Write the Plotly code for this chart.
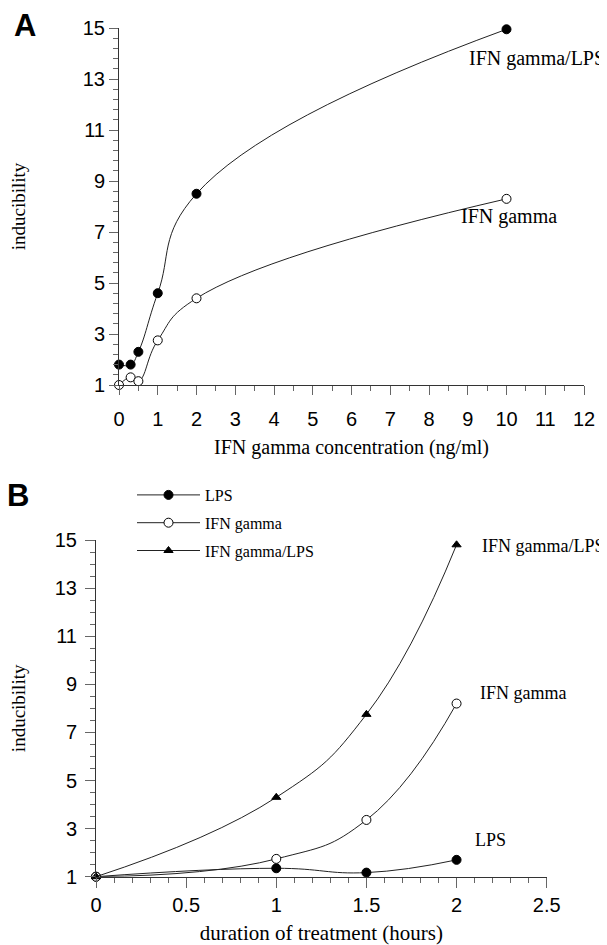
import plotly.graph_objects as go

# ---- Panel A data ----
conc_combo = [0, 0.3, 0.5, 1, 2, 10]
ind_combo_A = [1.8, 1.8, 2.3, 4.6, 8.5, 14.95]
conc_ifn = [0, 0.3, 0.5, 1, 2, 10]
ind_ifn_A = [1.0, 1.3, 1.15, 2.75, 4.4, 8.3]

# ---- Panel B data ----
hours = [0, 1, 1.5, 2]
ind_lps_B = [1.0, 1.35, 1.17, 1.7]
ind_ifn_B = [1.0, 1.74, 3.36, 8.2]
ind_combo_B = [1.0, 4.3, 7.75, 14.8]

x_ticks_A = [0, 1, 2, 3, 4, 5, 6, 7, 8, 9, 10, 11, 12]
x_ticks_B = [0, 0.5, 1, 1.5, 2, 2.5]
x_ticklabels_B = ["0", "0.5", "1", "1.5", "2", "2.5"]
y_ticks = [1, 3, 5, 7, 9, 11, 13, 15]

# page body has an 8px margin; figure sized to fill the visible window
OFF = 8
W, H = 607 - OFF, 945 - OFF

def px(x):
    return (x - OFF) / W

def py(y):
    return 1 - (y - OFF) / H

SANS = "Liberation Sans, Arial, sans-serif"
SERIF = "Liberation Serif, Times New Roman, serif"
LINE = "#222222"

fig = go.Figure()

def add(x, y, name, symbol, fill, xa, ya, show, group):
    fig.add_trace(go.Scatter(
        x=x, y=y, name=name, mode="lines+markers",
        line=dict(color=LINE, width=1, shape="spline", smoothing=1.3),
        marker=dict(symbol=symbol, size=9 if symbol != "triangle-up" else 8,
                    color=fill, line=dict(color="black", width=1)),
        xaxis=xa, yaxis=ya, showlegend=show, legendgroup=group,
        cliponaxis=False))

add(conc_combo, ind_combo_A, "IFN gamma/LPS", "circle", "black", "x", "y", False, "a1")
add(conc_ifn, ind_ifn_A, "IFN gamma", "circle", "white", "x", "y", False, "a2")

add(hours, ind_lps_B, "LPS", "circle", "black", "x2", "y2", True, "b1")
add(hours, ind_ifn_B, "IFN gamma", "circle", "white", "x2", "y2", True, "b2")
add(hours, ind_combo_B, "IFN gamma/LPS", "triangle-up", "black", "x2", "y2", True, "b3")

axis_common = dict(
    showline=True, linecolor="#333333", linewidth=1,
    showgrid=False, zeroline=False, ticks="outside",
    tickcolor="#666666", tickwidth=1, automargin=False,
    tickfont=dict(family=SANS, size=20, color="black"),
)
ytitle_font = dict(family=SERIF, size=19, color="black")

fig.update_layout(
    width=W, height=H,
    margin=dict(l=0, r=0, t=0, b=0),
    paper_bgcolor="white", plot_bgcolor="white",
    showlegend=True,
    legend=dict(
        x=px(132), y=py(478), xanchor="left", yanchor="top",
        font=dict(family=SERIF, size=16, color="black"),
        tracegroupgap=4, traceorder="grouped",
        bgcolor="rgba(0,0,0,0)", itemwidth=63,
    ),
    xaxis=dict(
        domain=[px(119), px(584)], range=[0, 12], anchor="y",
        tickvals=x_ticks_A, ticklen=9,
        minor=dict(dtick=0.5, tick0=0, ticklen=5, ticks="outside", tickcolor="#666666"),
        title=dict(text="IFN gamma concentration (ng/ml)",
                   font=dict(family=SERIF, size=20, color="black"), standoff=10),
        ticklabelstandoff=7,
        **axis_common),
    yaxis=dict(
        domain=[py(385), py(28)], range=[1, 15], anchor="x",
        tickvals=y_ticks, ticklen=9,
        minor=dict(dtick=0.4, tick0=1, ticklen=5, ticks="outside", tickcolor="#666666"),
        title=dict(text="inducibility", font=ytitle_font, standoff=53),
        ticklabelstandoff=0,
        **axis_common),
    xaxis2=dict(
        domain=[px(96), px(546.7)], range=[0, 2.5], anchor="y2",
        tickvals=x_ticks_B, ticktext=x_ticklabels_B, ticklen=10,
        minor=dict(dtick=0.1, tick0=0, ticklen=5, ticks="outside", tickcolor="#666666"),
        title=dict(text="duration of treatment (hours)",
                   font=dict(family=SERIF, size=21, color="black"), standoff=12),
        ticklabelstandoff=0,
        **axis_common),
    yaxis2=dict(
        domain=[py(876.7), py(540)], range=[1, 15], anchor="x2",
        tickvals=y_ticks, ticklen=10,
        minor=dict(dtick=0.5, tick0=1, ticklen=5, ticks="outside", tickcolor="#666666"),
        title=dict(text="inducibility", font=ytitle_font, standoff=27),
        ticklabelstandoff=4,
        **axis_common),
)

annA = dict(family=SERIF, size=20, color="black")
annB = dict(family=SERIF, size=18, color="black")
annotations = [
    dict(text="<b>A</b>", x=px(12), y=py(26), xref="paper", yref="paper",
         xanchor="left", yanchor="middle", showarrow=False,
         font=dict(family=SANS, size=31, color="black")),
    dict(text="<b>B</b>", x=px(5), y=py(495), xref="paper", yref="paper",
         xanchor="left", yanchor="middle", showarrow=False,
         font=dict(family=SANS, size=31, color="black")),
    dict(text="IFN gamma/LPS", x=8.98, y=13.82, xref="x", yref="y",
         xanchor="left", yanchor="middle", showarrow=False, font=annA),
    dict(text="IFN gamma", x=8.77, y=7.59, xref="x", yref="y",
         xanchor="left", yanchor="middle", showarrow=False, font=annA),
    dict(text="IFN gamma/LPS", x=2.13, y=14.75, xref="x2", yref="y2",
         xanchor="left", yanchor="middle", showarrow=False, font=annB),
    dict(text="IFN gamma", x=2.12, y=8.64, xref="x2", yref="y2",
         xanchor="left", yanchor="middle", showarrow=False, font=annB),
    dict(text="LPS", x=2.09, y=2.53, xref="x2", yref="y2",
         xanchor="left", yanchor="middle", showarrow=False, font=annB),
]
fig.update_layout(annotations=annotations)

fig.write_html("out.html")
